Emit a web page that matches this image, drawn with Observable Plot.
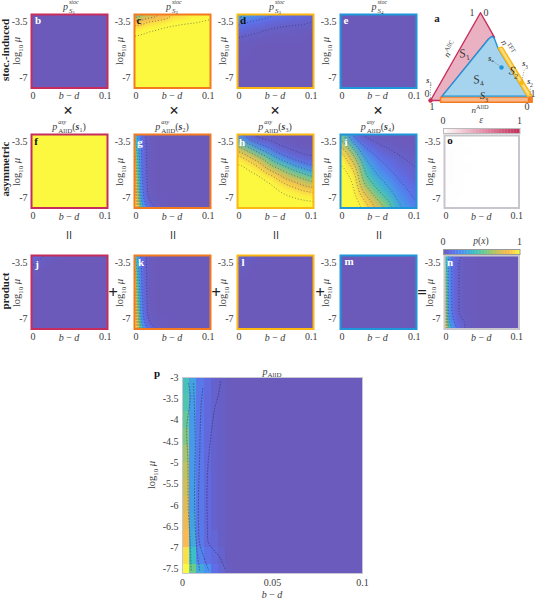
<!DOCTYPE html>
<html><head><meta charset="utf-8">
<script src="https://cdn.jsdelivr.net/npm/d3@7"></script>
<script src="https://cdn.jsdelivr.net/npm/@observablehq/plot@0.6"></script>
<style>
html,body{margin:0;padding:0;background:#fff}
#page{position:relative;width:538px;height:602px;overflow:hidden;font-family:"Liberation Serif",serif;color:#3c3c3c}
#page>svg,#page>div.p{position:absolute}
.t{position:absolute;white-space:nowrap;transform-origin:center center;line-height:1}
</style></head><body><div id="page"></div>
<script>
// ---------- data ----------
const ysSmall = [-3.08,-3.5,-4,-4.5,-5,-5.5,-6,-6.5,-7,-7.6];
const xsCoarse = [0,.01,.02,.03,.05,.075,.1];
const xsFine = [0,.005,.009,.013,.017,.021,.03,.05,.075,.1];
const xsFlat = [0,.1];
const ysFlat = [-3.08,-7.6];
const gridFlat0 = [[0,0],[0,0]];
const gridFlat1 = [[1,1],[1,1]];
// each inner array is one column (b-d), values from top to bottom
const gridC = [
 [.42,.78,.9,.96,.99,1,1,1,1,1],
 [.55,.8,.92,.97,.99,1,1,1,1,1],
 [.65,.85,.94,.98,.99,1,1,1,1,1],
 [.72,.87,.95,.98,1,1,1,1,1,1],
 [.85,.92,.97,.99,1,1,1,1,1,1],
 [.9,.94,.98,.99,1,1,1,1,1,1],
 [.92,.96,.985,1,1,1,1,1,1,1]];
const gridD = [
 [.42,.2,.1,.04,.01,.01,.01,0,0,0],
 [.33,.17,.08,.03,.01,.01,0,0,0,0],
 [.27,.14,.06,.02,.01,0,0,0,0,0],
 [.22,.12,.05,.02,0,0,0,0,0,0],
 [.15,.08,.03,.01,0,0,0,0,0,0],
 [.1,.06,.02,.01,0,0,0,0,0,0],
 [.08,.04,.015,0,0,0,0,0,0,0]];
const gridG = [
 [.4,.5,.6,.68,.75,.82,.88,.93,.97,1],
 [.25,.3,.33,.37,.42,.45,.5,.55,.62,.75],
 [.12,.14,.15,.16,.17,.18,.2,.22,.28,.42],
 [.05,.06,.07,.07,.08,.08,.09,.1,.12,.25],
 [.02,.03,.03,.03,.03,.03,.035,.036,.06,.15],
 [.01,.01,.01,.01,.01,.01,.01,.02,.02,.08],
 [0,0,0,0,0,0,0,0,.01,.03],
 [0,0,0,0,0,0,0,0,0,0],
 [0,0,0,0,0,0,0,0,0,0],
 [0,0,0,0,0,0,0,0,0,0]];
const gridH = [
 [.1,.5,.75,.92,.97,.99,1,1,1,1],
 [.04,.25,.6,.85,.96,.98,1,1,1,1],
 [.02,.1,.45,.75,.9,.97,.99,1,1,1],
 [0,.05,.25,.62,.83,.94,.98,1,1,1],
 [0,.02,.07,.3,.55,.8,.92,.97,.99,1],
 [0,0,.03,.07,.3,.55,.77,.9,.96,.99],
 [0,0,.01,.04,.12,.35,.6,.82,.94,.98]];
const gridI = [
 [.55,.72,.88,.95,.98,.99,1,1,1,1],
 [.25,.4,.65,.82,.92,.96,.98,.99,1,1],
 [.05,.17,.4,.6,.78,.88,.94,.97,.99,.99],
 [.02,.07,.17,.3,.4,.47,.57,.72,.85,.95],
 [0,.02,.06,.13,.2,.27,.35,.43,.55,.72],
 [0,.01,.02,.05,.08,.12,.17,.22,.27,.35],
 [0,0,.01,.02,.03,.04,.06,.09,.12,.17]];
const gridJ = [
 [.12,.06,.02,.01,0,0,0,0,0,0],
 [.06,.03,.01,0,0,0,0,0,0,0],
 [.03,.01,0,0,0,0,0,0,0,0],
 [.01,0,0,0,0,0,0,0,0,0],
 [0,0,0,0,0,0,0,0,0,0],
 [0,0,0,0,0,0,0,0,0,0],
 [0,0,0,0,0,0,0,0,0,0]];
const gridK = [
 [.45,.55,.65,.75,.8,.85,.9,.93,.97,1],
 [.27,.3,.33,.37,.42,.45,.5,.55,.62,.75],
 [.13,.14,.15,.16,.17,.18,.2,.22,.28,.42],
 [.06,.06,.07,.07,.08,.08,.09,.1,.12,.25],
 [.03,.03,.03,.03,.03,.03,.035,.036,.06,.15],
 [.01,.01,.01,.01,.01,.01,.01,.02,.02,.08],
 [0,0,0,0,0,0,0,0,.01,.03],
 [0,0,0,0,0,0,0,0,0,0],
 [0,0,0,0,0,0,0,0,0,0],
 [0,0,0,0,0,0,0,0,0,0]];
const gridL = [
 [.11,.05,.02,.01,0,0,0,0,0,0],
 [.05,.025,.01,0,0,0,0,0,0,0],
 [.03,.01,0,0,0,0,0,0,0,0],
 [.01,0,0,0,0,0,0,0,0,0],
 [0,0,0,0,0,0,0,0,0,0],
 [0,0,0,0,0,0,0,0,0,0],
 [0,0,0,0,0,0,0,0,0,0]];
const gridN = [
 [.45,.55,.62,.7,.75,.8,.85,.88,.93,1],
 [.31,.3,.29,.29,.29,.29,.3,.3,.35,.5],
 [.17,.16,.16,.16,.16,.16,.16,.17,.2,.32],
 [.1,.09,.09,.09,.09,.09,.09,.09,.13,.25],
 [.06,.055,.055,.055,.055,.055,.055,.055,.07,.13],
 [.05,.03,.03,.03,.03,.03,.03,.03,.05,.08],
 [.01,.01,.01,.01,.01,.01,.01,.01,.02,.02],
 [0,0,0,0,0,0,0,0,0,0],
 [0,0,0,0,0,0,0,0,0,0],
 [0,0,0,0,0,0,0,0,0,0]];
const gridO = [
 [.005,.01,.01,.015,.015,.01,.015,.01,.005,.005],
 [.005,.005,.01,.01,.01,.01,.01,.005,.005,0],
 [0,.005,.005,.005,.005,.005,.005,.005,0,0],
 [0,0,.005,0,.005,0,0,0,0,0],
 [0,0,0,0,0,0,0,0,0,0],
 [0,0,0,0,0,0,0,0,0,0],
 [0,0,0,0,0,0,0,0,0,0]];
const pRowEdges = [-3,-3.4,-3.8,-4.2,-4.6,-5,-5.4,-5.8,-6.2,-6.6,-7,-7.4,-7.6];
const pColEdges = [0,.004,.008,.012,.016,.02,.024,.028,.1];
const pValues = [
 [.43,.45,.5,.55,.6,.64,.68,.72,.76,.8,.88,.95],
 [.3,.28,.27,.27,.27,.27,.28,.28,.3,.32,.4,.52],
 [.16,.15,.15,.16,.16,.16,.16,.16,.16,.16,.2,.32],
 [.1,.09,.09,.09,.09,.09,.09,.09,.09,.09,.13,.25],
 [.05,.05,.05,.05,.05,.05,.05,.05,.05,.07,.09,.12],
 [.03,.03,.03,.03,.03,.03,.03,.03,.03,.03,.05,.07],
 [.012,.012,.012,.012,.012,.012,.012,.012,.012,.012,.012,.02],
 [.005,.005,.005,.005,.005,.005,.005,.005,.005,.005,.005,.005]];
const pLine1X = [.0033,.0043,.0024,.003,.0033,.0043,.0048];
const pLine1Y = [-3.14,-3.45,-4.16,-4.94,-6.11,-6.89,-7.52];
const pLine2X = [.0061,.0067,.0071,.0067,.0071,.008,.0095];
const pLine2Y = [-3.14,-3.77,-4.55,-5.72,-6.5,-7.05,-7.52];
const pLine3X = [.0113,.0104,.0099,.0095,.0089,.0089,.0095,.0117,.0145];
const pLine3Y = [-3.26,-3.61,-4.16,-4.94,-5.72,-6.5,-6.89,-7.2,-7.52];
const pLine4X = [.0212,.0201,.0177,.0164,.0151,.0141,.0136,.0139,.0145,.0182,.021,.0238];
const pLine4Y = [-3.1,-3.375,-3.77,-4.16,-4.63,-5.09,-5.72,-6.5,-6.89,-7.09,-7.24,-7.52];
const mapDomain = [0,.12,.25,.4,.52,.65,.8,.93];
const mapRange = ["#6b5aba","#5f6ee8","#4a93f0","#3cbfc6","#6ccb8c","#c4c25a","#fbb94e","#fbf83f"];
const barDomain = [0,.12,.25,.4,.55,.7,.85,1];
const epsRange = ["#ffffff","#c62d5c"];
const stepsBar = d3.range(0,1,.02);
const thr = [.04,.15,.3,.45,.6,.75,.85,.95];
const crimson="#c62d5c", orange="#f47a20", gold="#fbb812", blue="#1f96d8", grey="#c6c6cc";
// triangle schematic, in units of the simplex drawing
const triS1 = {x:[.5,0,.1,.117,.583,.617,.64,.5], y:[1,0,0,.05,.703,.733,.72,1]};
const triS4 = {x:[.117,.583,.617,.64,.677,.967,.117], y:[.05,.703,.733,.703,.59,.05,.05]};
const triS2 = {x:[.677,.717,1.017,.967,.677], y:[.597,.608,.05,.05,.597]};
const triS3 = {x:[.1,1.017,1.017,.1,.1], y:[.038,.038,-.02,-.02,.038]};
const dotX=[0,.993,.91,.71], dotY=[0,.008,.2,.376];
const leadX=[0,1,.94,.617], leadY=[.17,.17,.365,.456];
const dotC=[crimson,orange,gold,blue];
// ---------- helpers ----------
const page=document.getElementById("page");
function label(x,y,html,o={}){
  const d=document.createElement("div");d.className="t";d.innerHTML=html;
  d.style.left=x+"px";d.style.top=y+"px";
  d.style.fontSize=(o.size||10)+"px";
  if(o.weight)d.style.fontWeight=o.weight;
  if(o.color)d.style.color=o.color;
  if(o.opacity)d.style.opacity=o.opacity;
  d.style.transform=`translate(-50%,-50%) rotate(${o.rotate||0}deg)`;
  page.appendChild(d);
}
function place(svg,l,t){svg.style.position="absolute";svg.style.left=l+"px";svg.style.top=t+"px";svg.style.overflow="visible";page.appendChild(svg);}
const colorOpt={type:"linear",domain:mapDomain,range:mapRange,clamp:true};
function panel({L,T,W,H,xs,ys,grid,frame,contour=true,color=colorOpt,blur=0}){
  const ml=30,mt=4,mb=20,mr=8;
  const pts=[];xs.forEach((x,i)=>ys.forEach((y,j)=>pts.push({x,y,v:grid[i][j]})));
  const marks=[Plot.raster(pts,{x:"x",y:"y",fill:"v",interpolate:"barycentric",pixelSize:1,blur})];
  if(contour)marks.push(Plot.contour(pts,{x:"x",y:"y",value:"v",thresholds:thr,interpolate:"barycentric",blur,pixelSize:1,stroke:"#2a2a50",strokeOpacity:.7,strokeWidth:.75,fill:"none",strokeDasharray:"1 2"}));
  marks.push(Plot.frame({stroke:frame,strokeWidth:2}));
  const ax={fontSize:10,tickSize:0,fontFamily:"Liberation Serif",label:null,color:"#3c3c3c"};
  marks.push(Plot.axisY({...ax,ticks:[-3.5,-7],tickFormat:d=>String(d),tickPadding:4}));
  marks.push(Plot.axisX({...ax,ticks:[0],tickFormat:d=>"0",textAnchor:"start",dx:-1,tickPadding:4}));
  marks.push(Plot.axisX({...ax,ticks:[.1],tickFormat:d=>"0.1",textAnchor:"end",dx:4,tickPadding:4}));
  const svg=Plot.plot({width:W-2+ml+mr,height:H-2+mt+mb,marginLeft:ml,marginRight:mr,marginTop:mt,marginBottom:mb,
    x:{domain:[0,.1],axis:null},y:{domain:[-7.6,-3.08],axis:null},color,style:{background:"transparent"},marks});
  place(svg,L+1-ml,T+1-mt);
  label(L+W/2,T+H+8,"<i>b</i> &minus; <i>d</i>",{size:10});
  label(L-12,T+H/2+1,"log<sub style='font-size:.65em'>10</sub> <i>μ</i>",{size:10.5,rotate:-90});
}
function colorbar(L,T,W,H,range,domain,frame){
  const st=.02;
  const svg=Plot.plot({width:W,height:H,margin:0,marginLeft:0,marginRight:0,marginTop:0,marginBottom:0,
    x:{domain:[0,1],axis:null},y:{axis:null},color:{type:"linear",domain,range},style:{background:"transparent"},
    marks:[Plot.rect(stepsBar,{x1:d=>d,x2:d=>d+st+.005,fill:d=>d+st/2}),Plot.frame({stroke:frame,strokeWidth:1})]});
  place(svg,L,T);
}
function title(x,y,sup,sub,suffix=""){
  label(x,y,`<span style="display:inline-block;position:relative"><i>p</i><span style="position:absolute;left:6px;top:-3px;font-size:6px;font-style:italic">${sup}</span><span style="display:inline-block;font-size:7px;position:relative;top:3px;margin-left:1px">${sub}</span>${suffix}</span>`,{size:10});
}
// ---------- panels ----------
const cols=[30,133,236,338.5], W=78, rows=[12.5,133,254], H=75.5;
const ys=ysSmall;
panel({L:cols[0],T:rows[0],W,H,xs:xsFlat,ys:ysFlat,grid:gridFlat0,frame:crimson,contour:false});
panel({L:cols[1],T:rows[0],W,H,xs:xsCoarse,ys,grid:gridC,frame:orange,blur:1});
panel({L:cols[2],T:rows[0],W,H,xs:xsCoarse,ys,grid:gridD,frame:gold,blur:1});
panel({L:cols[3],T:rows[0],W,H,xs:xsFlat,ys:ysFlat,grid:gridFlat0,frame:blue,contour:false});
panel({L:cols[0],T:rows[1],W,H,xs:xsFlat,ys:ysFlat,grid:gridFlat1,frame:crimson,contour:false});
panel({L:cols[1],T:rows[1],W,H,xs:xsFine,ys,grid:gridG,frame:orange});
panel({L:cols[2],T:rows[1],W,H,xs:xsCoarse,ys,grid:gridH,frame:gold,blur:3});
panel({L:cols[3],T:rows[1],W,H,xs:xsCoarse,ys,grid:gridI,frame:blue,blur:3});
panel({L:cols[0],T:rows[2],W,H,xs:xsCoarse,ys,grid:gridJ,frame:crimson,blur:1});
panel({L:cols[1],T:rows[2],W,H,xs:xsFine,ys,grid:gridK,frame:orange});
panel({L:cols[2],T:rows[2],W,H,xs:xsCoarse,ys,grid:gridL,frame:gold,blur:1});
panel({L:cols[3],T:rows[2],W,H,xs:xsFlat,ys:ysFlat,grid:gridFlat0,frame:blue,contour:false});
panel({L:443,T:rows[2],W:76.5,H,xs:xsFine,ys,grid:gridN,frame:grey});
panel({L:443,T:134,W:76.5,H:74.5,xs:xsCoarse,ys,grid:gridO,frame:grey,contour:false,
  color:{type:"linear",domain:[0,1],range:epsRange}});
colorbar(443,128,76.5,5,epsRange,[0,1],"#bbb");
colorbar(443,248.5,76.5,5,mapRange,barDomain,"#999");
[[121,"<i>ε</i>"],[241.5,"<i>p</i>(<i>x</i>)"]].forEach(([y,t])=>{label(443,y,"0");label(519.5,y,"1");label(481,y,t,{size:9.5});});
// ---------- panel p ----------
(function(){
  const cells=[];
  pValues.forEach((col,i)=>col.forEach((v,j)=>cells.push({x1:pColEdges[i],x2:pColEdges[i+1],y1:pRowEdges[j],y2:pRowEdges[j+1],v})));
  const lines=[[pLine1X,pLine1Y],[pLine2X,pLine2Y],[pLine3X,pLine3Y],[pLine4X,pLine4Y]];
  const ax={fontSize:10,tickSize:0,fontFamily:"Liberation Serif",label:null,color:"#3c3c3c"};
  const ml=30,mt=4,mb=20,mr=12,W=180,H=196;
  const svg=Plot.plot({width:W+ml+mr,height:H+mt+mb,marginLeft:ml,marginRight:mr,marginTop:mt,marginBottom:mb,
    x:{domain:[0,.1],axis:null},y:{domain:[-7.6,-3],axis:null},color:colorOpt,style:{background:"transparent"},
    marks:[
      Plot.rect(cells,{x1:"x1",x2:"x2",y1:"y1",y2:"y2",fill:"v",shapeRendering:"crispEdges"}),
      ...lines.map(([X,Y])=>Plot.line(X.map((x,i)=>({x,y:Y[i]})),{x:"x",y:"y",curve:"catmull-rom",stroke:"#2a2a50",strokeOpacity:.7,strokeWidth:.75,strokeDasharray:"1 2"})),
      Plot.frame({stroke:"#c6c6d4",strokeWidth:1}),
      Plot.axisY({...ax,ticks:[-3,-3.5,-4,-4.5,-5,-5.5,-6,-6.5,-7,-7.5],tickFormat:d=>String(d),tickPadding:4}),
      Plot.axisX({...ax,ticks:[0,.05,.1],tickFormat:d=>d===0?"0":String(d),tickPadding:5})
    ]});
  place(svg,182-ml,377-mt);
  label(272,595,"<i>b</i> &minus; <i>d</i>");
  label(153,475,"log<sub style='font-size:.65em'>10</sub> <i>μ</i>",{size:10.5,rotate:-90});
  label(272,372,`<i>p</i><span style="font-size:7px;position:relative;top:2px">AllD</span>`,{size:10});
})();
// ---------- triangle ----------
(function(){
  const shape=(o,fill,stroke)=>Plot.line(o.x.map((x,i)=>({x,y:o.y[i]})),{x:"x",y:"y",fill,stroke,strokeWidth:1.4,curve:"linear"});
  const svg=Plot.plot({width:110,height:100,margin:0,marginLeft:0,marginRight:0,marginTop:0,marginBottom:0,
    x:{domain:[-.05,1.05],axis:null},y:{domain:[-.08,1.06],axis:null},style:{background:"transparent"},
    marks:[
      shape(triS1,"#eab1c2",crimson),
      shape(triS3,"#f9b688",orange),
      shape(triS4,"#a6d3ee",blue),
      shape(triS2,"#fbdb7e",gold),
      Plot.link([0,1,2,3],{x1:i=>dotX[i],y1:i=>dotY[i],x2:i=>leadX[i],y2:i=>leadY[i],stroke:"#555",strokeWidth:.6,strokeDasharray:"1 1.5"}),
      Plot.dot([0,1,2,3],{x:i=>dotX[i],y:i=>dotY[i],r:2.2,fill:i=>dotC[i],symbol:i=>i==1?"square":"circle"})
    ]});
  place(svg,425,7);
  const sS=(n)=>`<i>S</i><sub style="font-size:.6em;line-height:0">${n}</sub>`;
  label(437,18,"<b style='color:#222'>a</b>",{size:11});
  label(472,13,"1");label(486,13,"0");
  label(427,94,"0");label(533,94,"1");label(432,107,"1");label(527,107,"0");
  label(464,53,sS(1),{size:12,rotate:-10,color:"#333"});
  label(478,79,sS(4),{size:12,rotate:-10,color:"#333"});
  label(514,71,sS(2),{size:12,rotate:10,color:"#333"});
  label(484,96,sS(3),{size:10.5,color:"#333"});
  label(450,49,"<i>n</i><sup style='font-size:.7em'>AllC</sup>",{size:9,rotate:-58});
  label(508,47,"<i>n</i><sup style='font-size:.7em'>TFT</sup>",{size:9,rotate:58});
  label(480,110,"<i>n</i><sup style='font-size:.7em;line-height:0'>AllD</sup>",{size:9});
  label(429,82,"<b><i>s</i></b><sub style='font-size:.65em'>1</sub>",{size:8});
  label(530,83,"<b><i>s</i></b><sub style='font-size:.65em'>2</sub>",{size:8});
  label(525,65,"<b><i>s</i></b><sub style='font-size:.65em'>3</sub>",{size:8});
  label(491,60,"<b><i>s</i></b><sub style='font-size:.65em'>*</sub>",{size:8});
})();
// ---------- titles, letters, operators ----------
const cx=cols.map(c=>c+39);
[1,2,3,4].forEach((n,i)=>title(cx[i],7,"stoc",`<i>S</i><span style="font-size:5px;position:relative;top:1px">${n}</span>`));
[1,2,3,4].forEach((n,i)=>title(cx[i],127,"asy","AllD",`(<b><i>s</i></b><span style="font-size:6px;position:relative;top:2px">${n}</span>)`));
const letter=(x,y,t,c)=>label(x,y,`<b>${t}</b>`,{size:11,color:c});
letter(38,20,"b","#fff");letter(139,20,"c","#111");letter(243,20,"d","#111");letter(346,20,"e","#fff");
letter(36,141,"f","#111");letter(140,142,"g","#fff");letter(242,142,"h","#fff");letter(346,142,"i","#fff");
letter(37,264,"j","#fff");letter(141,262,"k","#fff");letter(243,262,"l","#fff");letter(349,261,"m","#fff");
letter(450,262,"n","#fff");letter(450,140,"o","#111");letter(157,373,"p","#111");
const bold=(x,y,t)=>label(x,y,t,{size:11,weight:"bold",rotate:-90,color:"#222"});
bold(5,50,"stoc.-induced");bold(5,169,"asymmetric");bold(5,291,"product");
[68,174,275,378].forEach(x=>label(x,110,"×",{size:17,weight:"bold",color:"#222"}));
[68,172,275,378].forEach(x=>label(x,235,"=",{size:17,rotate:90,color:"#111",opacity:.99}));
[113,216,320].forEach(x=>label(x,292,"+",{size:17,weight:"bold",color:"#222"}));
label(422,292,"=",{size:17,weight:"bold",color:"#222"});
</script></body></html>
